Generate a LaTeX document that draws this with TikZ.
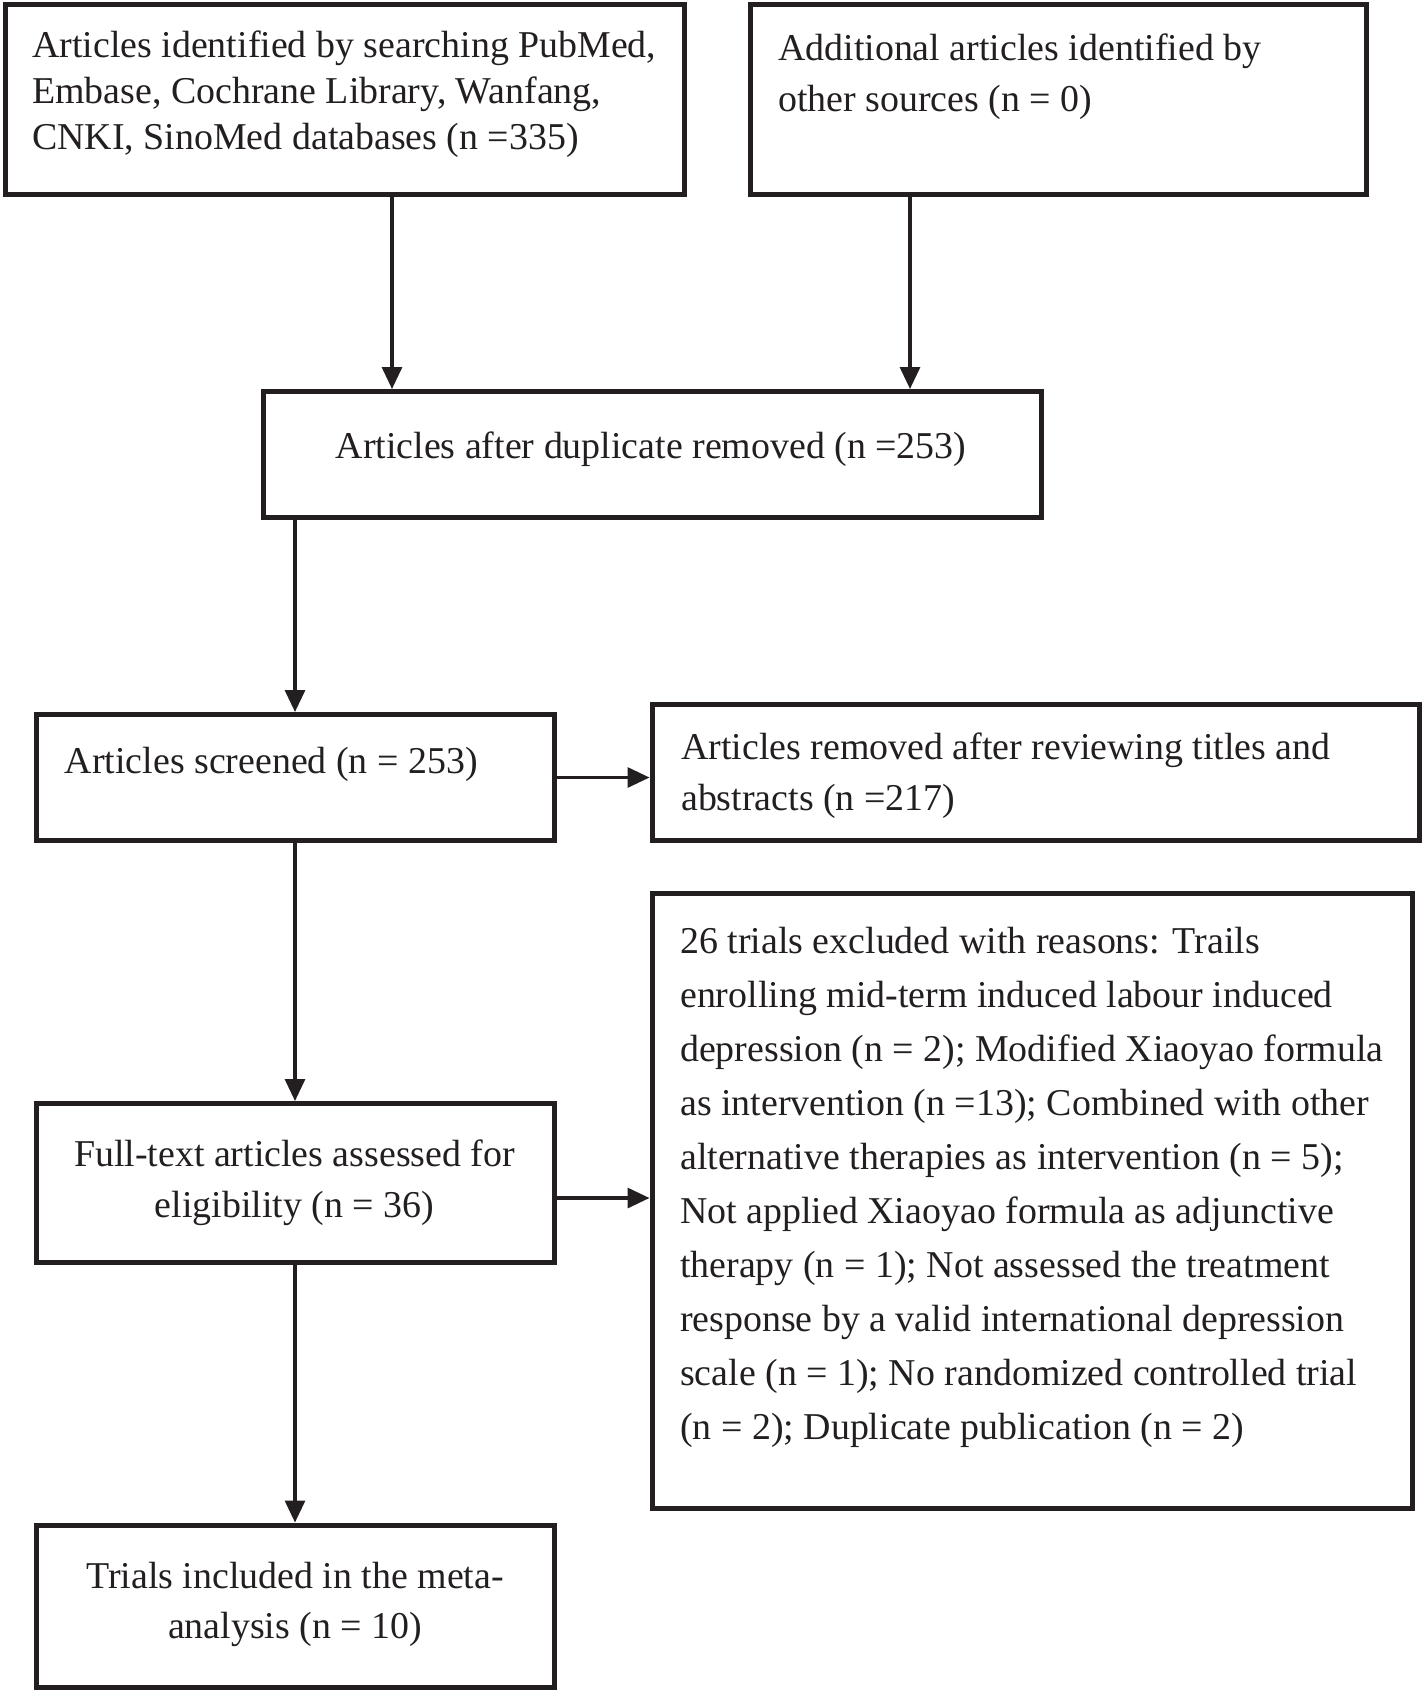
\documentclass[tikz,border=0pt]{standalone}
\usepackage{fontspec}
\setmainfont{Liberation Serif}
\usetikzlibrary{arrows.meta}
\definecolor{ink}{RGB}{35,31,32}
\begin{document}
\begin{tikzpicture}[x=1pt,y=-1pt,
  box/.style={draw=ink,line width=5pt,inner sep=0pt,fill=white},
  txt/.style={inner sep=0pt,text=ink,font=\fontsize{37.9}{50.6}\selectfont},
  arr/.style={draw=ink,line width=3.2pt,-{Triangle[length=22pt,width=20pt]}}]
\useasboundingbox (0,0) rectangle (1422,1691);
% boxes
\node[box,minimum width=679,minimum height=189] (b1) at (344.5,99.5) {};
\node[box,minimum width=616,minimum height=189] (b2) at (1058,99.5) {};
\node[box,minimum width=778,minimum height=126] (b3) at (652,454.5) {};
\node[box,minimum width=518,minimum height=126] (b4) at (295,777.5) {};
\node[box,minimum width=767,minimum height=136] (b5) at (1035.5,772.5) {};
\node[box,minimum width=518,minimum height=159] (b6) at (295,1183) {};
\node[box,minimum width=760,minimum height=615] (b7) at (1032,1201) {};
\node[box,minimum width=518,minimum height=162] (b8) at (295,1606) {};
% texts
\node[txt,anchor=north west,align=left,font=\fontsize{37.9}{46.3}\selectfont] (t1) at (32,30.5)
 {Articles identified by searching PubMed,\\Embase, Cochrane Library, Wanfang,\\CNKI, SinoMed databases (n =335)};
\node[txt,anchor=north west,align=left] (t2) at (778,34)
 {Additional articles identified by\\other sources (n = 0)};
\node[txt,anchor=base] (t3) at (651,458.5) {Articles after duplicate removed (n =253)};
\node[txt,anchor=base west] (t4) at (64.6,773) {Articles screened (n = 253)};
\node[txt,anchor=north west,align=left] (t5) at (681,733)
 {Articles removed after reviewing titles and\\abstracts (n =217)};
\node[txt,anchor=north,align=center] (t6) at (294.5,1140)
 {Full-text articles assessed for\\eligibility (n = 36)};
\node[txt,anchor=north west,align=left,font=\fontsize{37.9}{54}\selectfont] (t7) at (680,927)
 {26 trials excluded with reasons: Trails\\
  enrolling mid-term induced labour induced\\
  depression (n = 2); Modified Xiaoyao formula\\
  as intervention (n =13); Combined with other\\
  alternative therapies as intervention (n = 5);\\
  Not applied Xiaoyao formula as adjunctive\\
  therapy (n = 1); Not assessed the treatment\\
  response by a valid international depression\\
  scale (n = 1); No randomized controlled trial\\
  (n = 2); Duplicate publication (n = 2)};
\node[txt,anchor=north,align=center] (t8) at (295,1561.5)
 {Trials included in the meta-\\analysis (n = 10)};
% connectors
\coordinate (c1) at (392,0);
\coordinate (c2) at (910,0);
\coordinate (c6) at (0,1198);
\draw[arr] (c1 |- b1.south) -- (c1 |- b3.north);
\draw[arr] (c2 |- b2.south) -- (c2 |- b3.north);
\draw[arr] (b4.north |- b3.south) -- (b4.north);
\draw[arr] (b4.south) -- (b6.north);
\draw[arr] (b6.south) -- (b8.north);
\draw[arr] (b4.east) -- (b4.east -| b5.west);
\draw[arr] (c6 -| b6.east) -- (c6 -| b7.west);
\end{tikzpicture}
\end{document}
